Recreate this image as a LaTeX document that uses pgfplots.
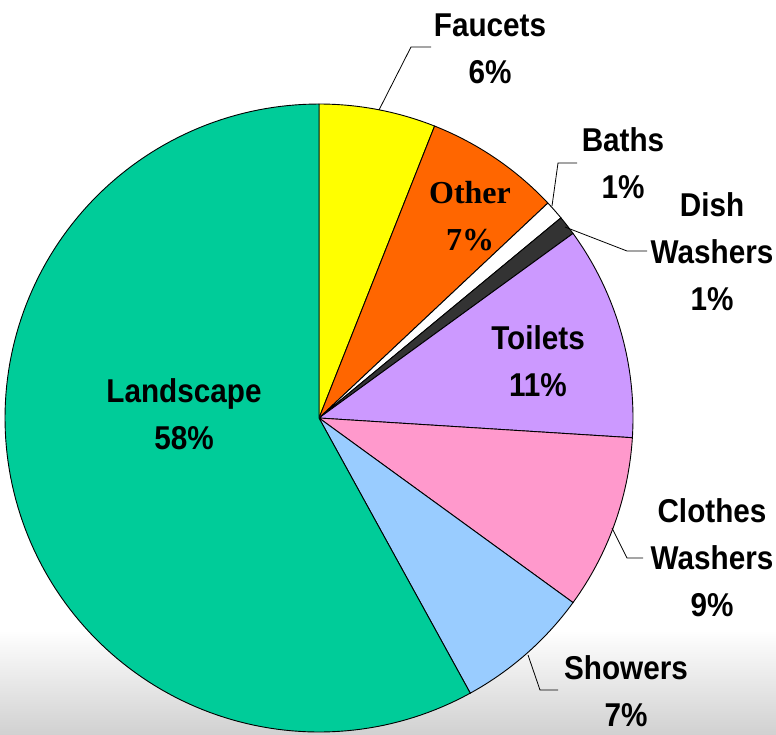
\documentclass[border=0pt]{standalone}
\usepackage{fontspec}
\setmainfont[FakeStretch=0.9]{Liberation Sans}
\newfontfamily\seriffont{Liberation Serif}
\usepackage{pgfplots}
\pgfplotsset{compat=1.18}

\definecolor{cFaucet}{HTML}{FFFF00}
\definecolor{cOther}{HTML}{FF6600}
\definecolor{cBath}{HTML}{FFFFFF}
\definecolor{cDish}{HTML}{333333}
\definecolor{cToilet}{HTML}{CC99FF}
\definecolor{cClothes}{HTML}{FF99CC}
\definecolor{cShower}{HTML}{99CCFF}
\definecolor{cLand}{HTML}{00CC99}

% one wedge: start (percent), share (percent), colour
\newcommand{\slice}[3]{%
  \pgfmathsetmacro{\aA}{90-3.6*(#1+#2)}%
  \pgfmathsetmacro{\aB}{90-3.6*#1}%
  \addplot[draw=black, line width=0.9pt, fill=#3, domain=\aA:\aB, samples=150, variable=\t]
    ({319+314*cos(\t)}, {418-314*sin(\t)}) -- (319,418) -- cycle;
}

\begin{document}
\begin{tikzpicture}
\begin{axis}[
    scale only axis,
    width=776pt, height=734pt,
    xmin=0, xmax=776, ymin=0, ymax=734,
    y dir=reverse,
    hide axis,
    clip=true,
    font=\bfseries\fontsize{33}{47}\selectfont,
]
\path (rel axis cs:0,0) rectangle (rel axis cs:1,1);
\fill[top color=white, bottom color=black!18] (0,630) rectangle (776,734);

\slice{0}{6}{cFaucet}
\slice{6}{7}{cOther}
\slice{13}{1}{cBath}
\slice{14}{1}{cDish}
\slice{15}{11}{cToilet}
\slice{26}{9}{cClothes}
\slice{35}{7}{cShower}
\slice{42}{58}{cLand}

% leader lines
\draw[line width=0.8pt] (379,110) -- (411,47) -- (431,47);
\draw[line width=0.8pt] (552,206) -- (558,163) -- (577,163);
\draw[line width=0.8pt] (565,227) -- (627,251) -- (647,251);
\draw[line width=0.8pt] (612,528) -- (627,558) -- (643,558);
\draw[line width=0.8pt] (528,655) -- (540,690) -- (558,690);

% labels
\node[align=center] at (490,49) {Faucets\\6\%};
\node[align=center, font=\seriffont\bfseries\fontsize{32}{47}\selectfont] at (470,216) {Other\\7\%};
\node[align=center] at (623,163) {Baths\\1\%};
\node[align=center] at (712,252) {Dish\\Washers\\1\%};
\node[align=center] at (538,361) {Toilets\\11\%};
\node[align=center] at (712,558) {Clothes\\Washers\\9\%};
\node[align=center] at (626,691) {Showers\\7\%};
\node[align=center] at (184,414) {Landscape\\58\%};
\end{axis}
\end{tikzpicture}
\end{document}
